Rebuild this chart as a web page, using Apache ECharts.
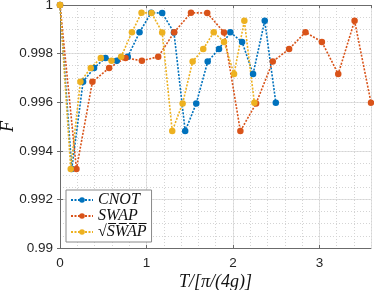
<!DOCTYPE html>
<html>
<head>
<meta charset="utf-8">
<script src="https://cdn.jsdelivr.net/npm/echarts@6/dist/echarts.min.js"></script>
<style>
html,body{margin:0;padding:0;background:#fff;}
#c{width:374px;height:290px;}
</style>
</head>
<body>
<div id="c"></div>
<script>
// Data
const cnotT = [0, 0.136, 0.267, 0.394, 0.526, 0.657, 0.784, 0.920, 1.054, 1.182, 1.318, 1.448, 1.576, 1.708, 1.839, 1.970, 2.106, 2.233, 2.368, 2.496];
const cnotF = [1.0, 0.99325, 0.99684, 0.99741, 0.99782, 0.99771, 0.99787, 0.99888, 0.99968, 0.99967, 0.99887, 0.99481, 0.99595, 0.99767, 0.99819, 0.99888, 0.99848, 0.99716, 0.99935, 0.99598];
const swapT = [0, 0.190, 0.375, 0.568, 0.758, 0.947, 1.136, 1.321, 1.515, 1.703, 1.897, 2.086, 2.268, 2.461, 2.650, 2.839, 3.029, 3.218, 3.407, 3.597];
const swapF = [1.0, 0.99325, 0.99684, 0.99741, 0.99782, 0.99771, 0.99787, 0.99888, 0.99968, 0.99967, 0.99887, 0.99481, 0.99595, 0.99767, 0.99819, 0.99888, 0.99848, 0.99716, 0.99935, 0.99598];
const sqrtT = [0, 0.124, 0.236, 0.356, 0.472, 0.596, 0.707, 0.832, 0.943, 1.059, 1.182, 1.298, 1.418, 1.534, 1.657, 1.778, 1.897, 2.013, 2.132, 2.248];
const sqrtF = [1.0, 0.99325, 0.99684, 0.99741, 0.99782, 0.99771, 0.99787, 0.99888, 0.99968, 0.99967, 0.99887, 0.99481, 0.99595, 0.99767, 0.99819, 0.99888, 0.99848, 0.99716, 0.99935, 0.99598];
const seriesNames = ['CNOT', 'SWAP', '\u221AS\u0305W\u0305A\u0305P\u0305'];
const xTicks = [0, 1, 2, 3];
const yTicks = [0.99, 0.992, 0.994, 0.996, 0.998, 1];

const zip = (a, b) => a.map((v, i) => [v, b[i]]);
const colors = ['#0072BD', '#D95319', '#EDB120'];
const axisCol = '#6b6b6b';
const xMax = swapT[swapT.length - 1];

const chart = echarts.init(document.getElementById('c'), null, {renderer: 'canvas'});

function mkSeries(name, data, color) {
  return {
    name: name, type: 'line', data: data, xAxisIndex: 0, yAxisIndex: 0,
    symbol: 'circle', symbolSize: 6.5,
    itemStyle: {color: color},
    lineStyle: {color: color, width: 1.6, type: [2, 1.5]},
    emphasis: {disabled: true}, animation: false
  };
}

chart.setOption({
  backgroundColor: '#fff',
  animation: false,
  grid: {left: 60, right: 3, top: 5, bottom: 42, containLabel: false, outerBoundsMode: 'none'},
  legend: {
    orient: 'vertical', left: 66, top: 190,
    padding: [2, 5, 2, 4], itemGap: 0,
    itemWidth: 22, itemHeight: 7,
    backgroundColor: '#fff', borderColor: '#8a8a8a', borderWidth: 1,
    data: seriesNames,
    textStyle: {fontFamily: 'Liberation Serif', fontStyle: 'italic', fontSize: 16, color: '#111', lineHeight: 16, height: 16}
  },
  xAxis: [
    {
      type: 'value', min: 0, max: xMax, interval: 1,
      position: 'bottom',
      name: 'T/[\u03C0/(4g)]', nameLocation: 'middle', nameGap: 25, nameMoveOverlap: false,
      nameTextStyle: {fontFamily: 'Liberation Serif', fontStyle: 'italic', fontSize: 18, color: '#111'},
      axisLine: {show: true, lineStyle: {color: axisCol, width: 1}},
      axisTick: {show: true, inside: true, length: 3, lineStyle: {color: axisCol}},
      axisLabel: {
        margin: 8, fontFamily: 'Liberation Sans', fontSize: 13.5, color: '#262626',
        showMaxLabel: false,
        formatter: v => xTicks.includes(Math.round(v * 1000) / 1000) ? String(Math.round(v)) : ''
      },
      splitLine: {show: true, lineStyle: {color: '#e2e2e2', width: 1}}
    },
    {
      type: 'value', min: 0, max: xMax, interval: 0.2, position: 'bottom',
      axisLine: {show: false}, axisTick: {show: false}, axisLabel: {show: false},
      splitLine: {show: true, lineStyle: {color: '#d4d4d4', width: 1, type: [1, 2]}}
    },
    {
      type: 'value', min: 0, max: xMax, interval: 1, position: 'top',
      axisLine: {show: true, lineStyle: {color: axisCol, width: 1}},
      axisTick: {show: true, inside: true, length: 3, lineStyle: {color: axisCol}},
      axisLabel: {show: false}, splitLine: {show: false}
    }
  ],
  yAxis: [
    {
      type: 'value', min: 0.99, max: 1, interval: 0.002, position: 'left',
      name: 'F', nameLocation: 'middle', nameGap: 43, nameRotate: 90, nameMoveOverlap: false,
      nameTextStyle: {fontFamily: 'Liberation Serif', fontStyle: 'italic', fontSize: 18, color: '#111'},
      axisLine: {show: true, lineStyle: {color: axisCol, width: 1}},
      axisTick: {show: true, inside: true, length: 3, lineStyle: {color: axisCol}},
      axisLabel: {
        margin: 7, fontFamily: 'Liberation Sans', fontSize: 13.5, color: '#262626',
        formatter: v => {
          const r = Math.round(v * 1000) / 1000;
          const t = yTicks.find(k => Math.abs(k - r) < 1e-9);
          return t === undefined ? '' : String(t);
        }
      },
      splitLine: {show: true, lineStyle: {color: '#e2e2e2', width: 1}}
    },
    {
      type: 'value', min: 0.99, max: 1, interval: 0.0005, position: 'left',
      axisLine: {show: false}, axisTick: {show: false}, axisLabel: {show: false},
      splitLine: {show: true, lineStyle: {color: '#d4d4d4', width: 1, type: [1, 2]}}
    },
    {
      type: 'value', min: 0.99, max: 1, interval: 0.002, position: 'right',
      axisLine: {show: true, lineStyle: {color: axisCol, width: 1}},
      axisTick: {show: true, inside: true, length: 3, lineStyle: {color: axisCol}},
      axisLabel: {show: false}, splitLine: {show: false}
    }
  ],
  series: [
    mkSeries(seriesNames[0], zip(cnotT, cnotF), colors[0]),
    mkSeries(seriesNames[1], zip(swapT, swapF), colors[1]),
    mkSeries(seriesNames[2], zip(sqrtT, sqrtF), colors[2])
  ]
});
</script>
</body>
</html>
